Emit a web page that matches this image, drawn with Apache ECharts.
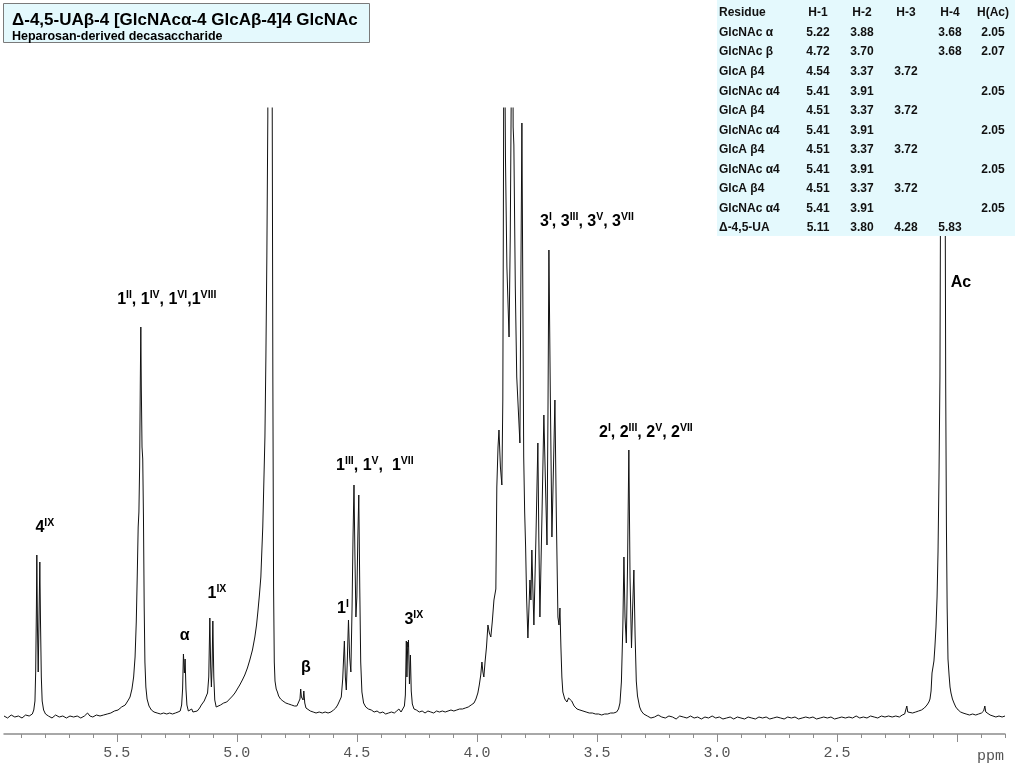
<!DOCTYPE html>
<html><head><meta charset="utf-8">
<script src="https://cdn.jsdelivr.net/npm/echarts@6/dist/echarts.min.js"></script>
<style>html,body{margin:0;padding:0;background:#fff}#c{width:1024px;height:768px}</style>
</head><body><div id="c"></div>
<script>
// ---- spectrum values: [chemical shift (ppm), intensity] ----
const regionA = [[5.970,1],[5.955,-1],[5.940,2],[5.925,0],[5.910,1],[5.895,-1],[5.880,2],[5.865,1],[5.852,3],[5.846,7],[5.841,16],[5.838,45],[5.835,110],[5.8333,162],[5.8305,88],[5.8275,45],[5.8245,92],[5.8208,155],[5.818,96],[5.8145,40],[5.811,16],[5.805,7],[5.797,3],[5.785,1],[5.770,-1],[5.755,2],[5.740,0],[5.725,1],[5.710,-1],[5.695,1],[5.680,0],[5.665,1],[5.650,-1],[5.635,1],[5.622,4],[5.612,1],[5.600,0],[5.585,2],[5.570,1],[5.555,2],[5.540,3],[5.525,4],[5.510,6],[5.495,7],[5.480,10],[5.465,12],[5.452,17]];
const regionB = [[5.445,20],[5.437,28],[5.430,40],[5.424,60],[5.419,95],[5.415,140],[5.411,190],[5.408,205],[5.405,250],[5.402,340],[5.400,390],[5.398,330],[5.395,270],[5.392,258],[5.389,200],[5.386,110],[5.383,55],[5.379,30],[5.374,18],[5.366,11],[5.356,7],[5.345,5],[5.332,4],[5.318,3],[5.305,4],[5.292,3],[5.280,4],[5.268,3],[5.256,4],[5.245,5]];
const regionC = [[5.236,6],[5.230,12],[5.226,28],[5.2225,63],[5.2185,44],[5.2155,58],[5.212,28],[5.208,12],[5.202,6],[5.195,4],[5.188,8],[5.183,5],[5.175,5],[5.165,6],[5.155,9],[5.148,12],[5.142,11],[5.136,16],[5.128,18],[5.122,24],[5.117,40],[5.1125,99],[5.109,50],[5.106,30],[5.103,52],[5.100,96],[5.096,40],[5.092,17],[5.086,10],[5.078,10]];
const regionD = [[5.068,12],[5.055,14],[5.042,15],[5.030,18],[5.018,21],[5.008,24],[4.998,28],[4.988,32],[4.977,37],[4.967,42],[4.956,49],[4.946,57],[4.935,67],[4.925,80],[4.918,92],[4.9125,105],[4.906,122],[4.900,140],[4.896,165],[4.892,190],[4.887,240],[4.883,280],[4.879,360],[4.875,460],[4.871,600],[4.868,1100],[4.862,1800],[4.856,1100],[4.853,650],[4.850,340],[4.847,130],[4.844,55],[4.841,36],[4.836,28],[4.831,25],[4.826,21],[4.818,18],[4.808,16],[4.796,14],[4.784,13],[4.772,12],[4.760,11],[4.750,11]];
const regionE = [[4.742,13],[4.737,18],[4.734,28],[4.731,20],[4.728,22],[4.724,17],[4.721,26],[4.717,14],[4.712,9],[4.704,7],[4.694,6],[4.682,5],[4.670,4],[4.657,5],[4.644,4],[4.632,5],[4.620,4],[4.608,5],[4.597,7],[4.588,9],[4.580,12]];
const regionF = [[4.572,14],[4.565,20],[4.559,38],[4.555,60],[4.552,76],[4.548,40],[4.544,27],[4.540,55],[4.538,72],[4.535,97],[4.530,60],[4.525,45],[4.520,110],[4.516,180],[4.512,232],[4.508,160],[4.504,100],[4.500,120],[4.496,180],[4.492,222],[4.488,130],[4.484,55],[4.479,25],[4.472,14],[4.463,10],[4.452,8]];
const regionG = [[4.440,7],[4.428,5],[4.416,6],[4.404,4],[4.392,5],[4.380,3],[4.368,4],[4.356,5],[4.344,4],[4.334,6],[4.325,8],[4.316,5],[4.308,7],[4.302,11],[4.298,22],[4.294,76],[4.2915,40],[4.288,75],[4.2865,70],[4.285,77],[4.281,33],[4.277,62],[4.2735,26],[4.269,13],[4.262,8],[4.252,7]];
const regionH = [[4.240,5],[4.228,6],[4.216,4],[4.204,6],[4.192,5],[4.180,4],[4.168,6],[4.156,5],[4.144,6],[4.132,5],[4.120,6],[4.108,7],[4.096,6],[4.084,7],[4.072,8],[4.060,8],[4.048,9],[4.036,10],[4.024,12],[4.012,14],[4.004,18]];
const regionI = [[3.996,24],[3.990,32],[3.984,42],[3.979,55],[3.975,45],[3.971,40],[3.966,55],[3.960,70],[3.954,92],[3.948,84],[3.942,80],[3.936,95],[3.929,117],[3.921,128],[3.917,230],[3.912,270],[3.908,287],[3.902,250],[3.896,232],[3.892,317],[3.889,560],[3.887,800],[3.884,800],[3.881,560],[3.875,450],[3.866,380],[3.861,480],[3.857,620],[3.854,800],[3.851,760],[3.849,590],[3.846,572],[3.840,430],[3.834,340],[3.8208,274],[3.817,430],[3.8125,594],[3.809,440],[3.805,260],[3.801,205],[3.797,170],[3.793,120],[3.7875,79],[3.783,110],[3.779,137],[3.775,117],[3.771,167],[3.767,130],[3.7625,92],[3.754,180],[3.746,274],[3.742,180],[3.7375,100],[3.729,200],[3.721,302],[3.715,240],[3.708,172],[3.704,300],[3.700,467],[3.694,320],[3.6875,180],[3.681,250],[3.675,317],[3.669,200],[3.6625,100],[3.658,92],[3.654,109],[3.650,70],[3.646,40],[3.642,25],[3.634,18],[3.625,15],[3.618,19],[3.6125,21],[3.605,16],[3.595,11],[3.583,8],[3.571,7],[3.558,6],[3.545,5],[3.532,4],[3.519,4],[3.506,3],[3.493,3],[3.480,2],[3.468,3],[3.455,3],[3.443,4],[3.430,4],[3.418,5],[3.410,8]];
const regionJ = [[3.404,14],[3.398,35],[3.392,90],[3.3875,160],[3.383,100],[3.3775,74],[3.3725,150],[3.367,267],[3.362,140],[3.356,69],[3.351,110],[3.346,147],[3.341,82],[3.336,36],[3.331,21],[3.327,19],[3.322,10],[3.315,6],[3.305,3]];
const regionK = [[3.290,1],[3.275,-1],[3.260,0],[3.245,2],[3.230,0],[3.215,-1],[3.200,1],[3.185,0],[3.170,-2],[3.155,1],[3.140,0],[3.125,-1],[3.110,1],[3.095,-1],[3.080,0],[3.065,-2],[3.050,0],[3.035,-1],[3.020,1],[3.005,-1],[2.990,0],[2.975,-2],[2.960,-1],[2.945,0],[2.930,-2],[2.915,0],[2.900,-1],[2.885,-2],[2.870,0],[2.855,-1],[2.840,-2],[2.825,0],[2.810,-1],[2.795,0],[2.780,-2],[2.765,-1],[2.750,0],[2.735,-1],[2.720,-2],[2.705,0],[2.690,-1],[2.675,0],[2.660,-2],[2.645,-1],[2.630,0],[2.615,-1],[2.600,0],[2.585,-2],[2.570,-1],[2.555,0],[2.540,-1],[2.525,0],[2.510,-2],[2.495,-1],[2.480,0],[2.465,-1],[2.450,0],[2.435,-1],[2.420,1],[2.405,-1],[2.390,0],[2.375,-1],[2.360,1],[2.345,0],[2.330,-1],[2.315,1],[2.300,0],[2.285,1],[2.270,0],[2.255,1],[2.240,0],[2.228,2]];
const regionL = [[2.218,3],[2.213,5],[2.209,11],[2.205,5],[2.198,3],[2.185,4],[2.172,5],[2.160,6],[2.148,7],[2.136,9],[2.125,12],[2.117,15],[2.1125,18],[2.108,26],[2.104,44],[2.100,50],[2.096,56],[2.092,70],[2.0875,90],[2.083,120],[2.079,165],[2.075,240],[2.071,340],[2.068,560],[2.066,900],[2.060,1800],[2.053,900],[2.050,600],[2.047,330],[2.044,190],[2.041,110],[2.0375,58],[2.033,42],[2.029,30],[2.025,24],[2.019,18],[2.0125,14],[2.005,10],[1.995,7],[1.985,5],[1.975,4],[1.962,3],[1.948,2],[1.935,3],[1.922,2],[1.910,3],[1.898,4],[1.889,6],[1.884,11],[1.880,5],[1.874,3],[1.862,2],[1.850,1],[1.838,0],[1.825,1],[1.812,0],[1.800,1]];

// ---- axis ticks ----
const majorTicks = [2.0,2.5,3.0,3.5,4.0,4.5,5.0,5.5];
const tickLabels = [2.5,3.0,3.5,4.0,4.5,5.0,5.5];
const minorTicks = [1.8,1.9,2.1,2.2,2.3,2.4,2.6,2.7,2.8,2.9,3.1,3.2,3.3,3.4,3.6,3.7,3.8,3.9,4.1,4.2,4.3,4.4,4.6,4.7,4.8,4.9,5.1,5.2,5.3,5.4,5.6,5.7,5.8,5.9];

// ---- peak annotations ----
const labelTexts = [
  '{n|4}{s|IX}',
  '{n|1}{s|II}{n|, 1}{s|IV}{n|, 1}{s|VI}{n|,1}{s|VIII}',
  '{n|\u03b1}',
  '{n|1}{s|IX}',
  '{n|\u03b2}',
  '{n|1}{s|III}{n|, 1}{s|V}{n|,  1}{s|VII}',
  '{n|1}{s|I}',
  '{n|3}{s|IX}',
  '{n|3}{s|I}{n|, 3}{s|III}{n|, 3}{s|V}{n|, 3}{s|VII}',
  '{n|2}{s|I}{n|, 2}{s|III}{n|, 2}{s|V}{n|, 2}{s|VII}',
  '{n|Ac}'
];
const labelShift  = [5.800, 5.292, 5.217, 5.083, 4.7125, 4.425, 4.558, 4.2625, 3.5417, 3.296, 1.9833];
const labelHeight = [189, 417, 81, 123, 49, 251, 108, 97, 495, 284, 434];

// ---- assignment table ----
const tableHeader = ['Residue','H-1','H-2','H-3','H-4','H(Ac)'];
const residues = ['GlcNAc \u03b1','GlcNAc \u03b2','GlcA \u03b24','GlcNAc \u03b14','GlcA \u03b24','GlcNAc \u03b14','GlcA \u03b24','GlcNAc \u03b14','GlcA \u03b24','GlcNAc \u03b14','\u0394-4,5-UA'];
const h1  = ['5.22','4.72','4.54','5.41','4.51','5.41','4.51','5.41','4.51','5.41','5.11'];
const h2  = ['3.88','3.70','3.37','3.91','3.37','3.91','3.37','3.91','3.37','3.91','3.80'];
const h3  = ['','','3.72','','3.72','','3.72','','3.72','','4.28'];
const h4  = ['3.68','3.68','','','','','','','','','5.83'];
const hAc = ['2.05','2.07','','2.05','','2.05','','2.05','','2.05',''];

const titleText = '\u0394-4,5-UA\u03b2-4 [GlcNAc\u03b1-4 GlcA\u03b2-4]4 GlcNAc';
const subtitleText = 'Heparosan-derived decasaccharide';

const spectrum = [].concat(regionA, regionB, regionC, regionD, regionE, regionF, regionG, regionH, regionI, regionJ, regionK, regionL);

const chart = echarts.init(document.getElementById('c'), null, {renderer: 'canvas'});
const axisGray = '#8c8c8c';
chart.setOption({
  animation: false,
  backgroundColor: '#ffffff',
  grid: {left: 4, right: 19, top: 108, bottom: 34, containLabel: false},
  xAxis: [
    {type: 'value', inverse: true, min: 1.8, max: 5.97, position: 'bottom',
     axisLine: {show: true, onZero: false, lineStyle: {color: axisGray, width: 1.5}},
     axisTick: {show: true, customValues: majorTicks, length: 8, lineStyle: {color: axisGray, width: 1}},
     axisLabel: {show: true, customValues: tickLabels, formatter: v => Number(v).toFixed(1),
       color: '#555', fontFamily: 'Liberation Mono', fontSize: 15, margin: 12},
     splitLine: {show: false}},
    {type: 'value', inverse: true, min: 1.8, max: 5.97, position: 'bottom',
     axisLine: {show: false, onZero: false},
     axisTick: {show: true, customValues: minorTicks, length: 4, lineStyle: {color: axisGray, width: 1}},
     axisLabel: {show: false}, splitLine: {show: false}}
  ],
  yAxis: {type: 'value', min: -17, max: 609, show: false, splitLine: {show: false}},
  series: [{
    type: 'line', data: spectrum, xAxisIndex: 0, symbol: 'none', showSymbol: false,
    clip: true, lineStyle: {color: '#111111', width: 1}, z: 2
  }]
});

const graphics = [];
// title box
graphics.push({type: 'rect', z: 100, shape: {x: 3.5, y: 3.5, width: 366, height: 39},
  style: {fill: '#e4f9fd', stroke: '#7a7a7a', lineWidth: 1}});
graphics.push({type: 'text', z: 101, x: 12, y: 20, style: {text: titleText, fill: '#000',
  font: 'bold 17px "Liberation Sans", Arial, sans-serif', verticalAlign: 'middle', align: 'left'}});
graphics.push({type: 'text', z: 101, x: 12, y: 37, style: {text: subtitleText, fill: '#000',
  font: 'bold 12.5px "Liberation Sans", Arial, sans-serif', verticalAlign: 'middle', align: 'left'}});
// table
graphics.push({type: 'rect', z: 100, shape: {x: 717, y: 0, width: 298, height: 236},
  style: {fill: '#e4f9fd'}});
const colX = [719, 818, 862, 906, 950, 993];
const rowY0 = 13, rowH = 19.55;
const tfont = 'bold 12px "Liberation Sans", Arial, sans-serif';
tableHeader.forEach((h, j) => {
  graphics.push({type: 'text', z: 101, x: colX[j], y: rowY0, style: {text: h, fill: '#111', font: tfont,
    verticalAlign: 'middle', align: j === 0 ? 'left' : 'center'}});
});
const cols = [residues, h1, h2, h3, h4, hAc];
residues.forEach((r, i) => {
  cols.forEach((col, j) => {
    if (!col[i]) return;
    graphics.push({type: 'text', z: 101, x: colX[j], y: rowY0 + (i + 1) * rowH, style: {text: col[i], fill: '#111', font: tfont,
      verticalAlign: 'middle', align: j === 0 ? 'left' : 'center'}});
  });
});
// ppm unit
graphics.push({type: 'text', z: 101, x: 977, y: 756, style: {text: 'ppm', fill: '#555',
  font: '15px "Liberation Mono", monospace', verticalAlign: 'middle', align: 'left'}});
// peak labels
const rich = {
  n: {fontSize: 16, fontWeight: 'bold', fontFamily: '"Liberation Sans", Arial, sans-serif', lineHeight: 20, verticalAlign: 'middle', fill: '#000'},
  s: {fontSize: 10.5, fontWeight: 'bold', fontFamily: '"Liberation Sans", Arial, sans-serif', lineHeight: 10, verticalAlign: 'top', fill: '#000'}
};
labelTexts.forEach((t, i) => {
  const p = chart.convertToPixel({xAxisIndex: 0, yAxisIndex: 0}, [labelShift[i], labelHeight[i]]);
  graphics.push({type: 'text', z: 50, x: p[0], y: p[1], style: {text: t, rich: rich, fill: '#000',
    align: 'center', verticalAlign: 'middle'}});
});
chart.setOption({graphic: graphics});
</script>
</body></html>
